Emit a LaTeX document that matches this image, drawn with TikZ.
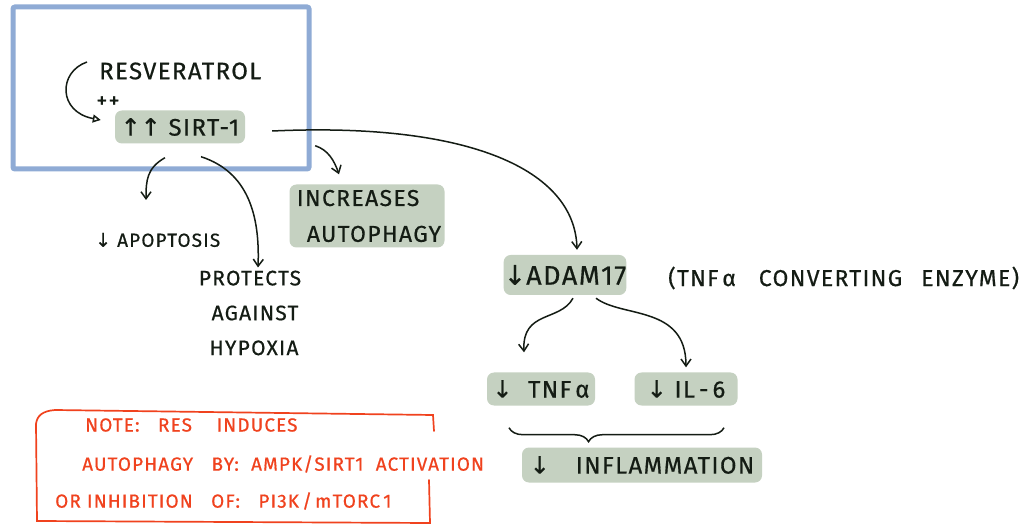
\documentclass[tikz,border=0pt]{standalone}
\usepackage{fontspec}
\setmainfont{Fira Sans}[LetterSpace=6, FakeBold=0.6]
\newfontfamily\arrowfont{DejaVu Sans}[FakeBold=0.6]
\usetikzlibrary{arrows.meta,decorations.pathreplacing}
\definecolor{boxgreen}{RGB}{197,209,193}
\definecolor{inkdark}{RGB}{20,28,20}
\definecolor{frameblue}{RGB}{143,171,213}
\definecolor{notered}{RGB}{240,66,30}
\newcommand{\dn}{{\arrowfont\char"2193}}
\newcommand{\up}{{\arrowfont\char"2191}}
\newcommand{\fs}[1]{\fontsize{#1}{#1}\selectfont}
\tikzset{
  ink/.style={text=inkdark, font=\fs{22}, inner sep=0pt},
  greenbox/.style={ink, fill=boxgreen, rounded corners=7bp, align=center},
  flow/.style={draw=inkdark, line width=1.5bp, -{Straight Barb[length=7bp,width=10bp]}},
  notetext/.style={text=notered, font=\fs{19}, inner sep=0pt, anchor=west},
}
\begin{document}
\begin{tikzpicture}[x=1bp,y=-1bp]
\useasboundingbox (0,0) rectangle (1031,528);
\fill[white] (0,0) rectangle (1031,528);

% highlighted region around the resveratrol / SIRT-1 step
\draw[frameblue, line width=5bp, rounded corners=2bp] (13,7) rectangle (309,169);

% top: resveratrol activates SIRT-1
\node[ink, anchor=west, font=\fs{24}] (resv) at (99,71) {RESVERATROL};
\node[greenbox, minimum width=130bp, minimum height=33bp, font=\fs{24}] (sirt) at (180,127) {\up\up\ SIRT-1};
\node[ink, font=\fs{22}] (plus) at (108,102) {++};
\draw[draw=inkdark, line width=1.5bp, -{Triangle[open,length=8bp,width=8bp]}]
  ([xshift=-12bp,yshift=9bp]resv.west) .. controls (58,72) and (58,112) .. ([xshift=-14bp,yshift=7bp]sirt.west);

% SIRT-1 outcomes
\node[ink, anchor=west, font=\fs{19}] (apop) at (95,240) {\dn\ APOPTOSIS};
\node[ink, align=center, font=\fontsize{21}{35}\selectfont] (hypo) at (250,313) {PROTECTS\\\hspace*{10bp}AGAINST\\\hspace*{8bp}HYPOXIA};
\node[greenbox, align=left, font=\fontsize{23}{36}\selectfont, minimum width=155bp, minimum height=63bp] (auto) at (367,216) {\hspace*{4bp}INCREASES\\\hspace*{14bp}AUTOPHAGY};

\draw[flow] ([xshift=-15bp,yshift=-14bp]sirt.south) .. controls (147,168) and (146,180) .. (146,200);
\draw[flow] ([xshift=21bp,yshift=-13bp]sirt.south) .. controls (248,172) and (260,215) .. ([xshift=8bp,yshift=3bp]hypo.north);
\draw[flow] ([xshift=70bp,yshift=-2bp]sirt.south east) .. controls (328,150) and (334,160) .. ([xshift=-28bp,yshift=10bp]auto.north);

% SIRT-1 lowers ADAM17
\node[greenbox, minimum width=120bp, minimum height=40bp, font=\fs{27}] (adam) at (565,275) {\dn ADAM17};
\node[ink, anchor=west, font=\fs{23}, text width=370bp, align=left] (tace) at (668,278)
  {(TNF\,α\ \ \ CONVERTING\ \ \,ENZYME)};
\draw[flow] ([xshift=27bp,yshift=-4bp]sirt.east) .. controls (470,122) and (575,170) .. ([xshift=12bp,yshift=5bp]adam.north);

% ADAM17 downstream cytokines
\node[greenbox, minimum width=108bp, minimum height=33bp, font=\fs{24}] (tnf) at (541,389) {\dn\ \ TNF\,α};
\node[greenbox, minimum width=103bp, minimum height=33bp, font=\fs{24}] (il6) at (686,389) {\dn\ IL\,-\,6};
\draw[flow] ([xshift=8bp,yshift=-3bp]adam.south) .. controls (560,322) and (522,310) .. ([xshift=-17bp,yshift=20bp]tnf.north);
\draw[flow] ([xshift=31bp,yshift=-3bp]adam.south) .. controls (622,318) and (686,305) .. ([yshift=5bp]il6.north);

% combined effect
\node[greenbox, minimum width=240bp, minimum height=35bp, font=\fs{24}] (infl) at (642,465) {\dn\hspace{26bp}INFLAMMATION};
\draw[draw=inkdark, line width=1.5bp, decorate, decoration={brace, mirror, amplitude=14bp, aspect=0.37}]
  ([xshift=-32bp,yshift=-22bp]tnf.south) coordinate (bl) -- ([xshift=38bp,yshift=-22bp]il6.south) coordinate (br);

% note on autophagy induction
\node[notetext] (n1) at (85,425) {NOTE:\ \ \ RES\ \ \ \ INDUCES};
\node[notetext] (n2) at (82,464) {AUTOPHAGY\ \ \ BY:\ \ AMPK/SIRT1\ \ ACTIVATION};
\node[notetext] (n3) at (55,501) {OR\ INHIBITION\ \ \ OF:\ \ \ PI3K\,/\,mTORC\,1};
\draw[notered, line width=1.7bp, line cap=round]
  (55,410) .. controls (42,411) and (37,416) .. (36,424) -- (37,521) -- (430,523) -- (429,480);
\draw[notered, line width=1.7bp, line cap=round]
  (55,410) -- (433,415) -- (434,431);
\end{tikzpicture}
\end{document}
